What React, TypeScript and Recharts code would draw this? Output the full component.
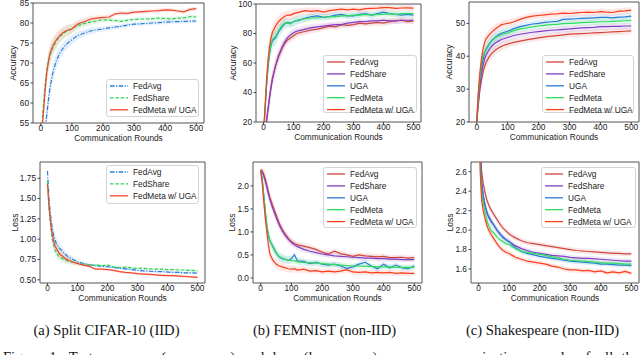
import { ComposedChart, Line, Area, XAxis, YAxis, ReferenceArea } from "recharts";

const FONT = "'Liberation Sans', Arial, sans-serif";
const SERIF = "'Liberation Serif', 'Times New Roman', serif";

// communication rounds sampled from the curves
const ROUNDS = [
  0, 5, 10, 15, 20, 25, 30,
  40, 50, 60, 70, 80, 90, 100, 110, 120,
  140, 160, 180, 200, 220, 240, 260, 280, 300, 320, 340, 360, 380, 400, 420, 440, 460, 480, 500,
];
const X_TICKS = [0, 100, 200, 300, 400, 500];

// (a) Split CIFAR-10 — accuracy
const CIFAR_ACC_FEDAVG = [
  30, 40, 48, 54, 57.5, 61, 64,
  68, 70.5, 72.3, 73.5, 74.5, 75.2, 75.8, 76.4, 76.9,
  77.5, 78.0, 78.3, 78.5, 78.8, 79.0, 79.2, 79.5, 79.7, 79.8, 79.9, 80.0, 80.1, 80.2, 80.3, 80.35, 80.4, 80.45, 80.5,
];
const CIFAR_ACC_FEDSHARE = [
  35, 56, 61, 65.5, 68.5, 70.5, 72,
  74, 75.5, 76.5, 77.2, 77.8, 78.2, 78.6, 79.0, 79.4,
  79.9, 80.2, 80.5, 80.8, 80.7, 80.6, 80.4, 80.7, 80.9, 81.0, 81.0, 81.1, 81.2, 81.1, 81.0, 81.2, 81.3, 81.6, 81.5,
];
const CIFAR_ACC_FEDMETA_UGA = [
  35, 54, 59, 64, 68, 70.5, 72.5,
  74.5, 75.8, 76.8, 77.5, 78, 78.3, 78.5, 79.2, 79.8,
  80.3, 81.0, 81.2, 81.4, 81.5, 82.3, 82.5, 82.4, 82.7, 82.8, 82.9, 83.0, 83.1, 83.3, 83.2, 83.0, 82.8, 83.4, 83.6,
];
const CIFAR_ACC_SPREAD = [
  0, 2, 2.5, 2.5, 2.5, 2.5, 2.3,
  2, 1.8, 1.6, 1.5, 1.4, 1.3, 1.2, 1.1, 1.0,
  0.9, 0.8, 0.7, 0.6, 0.6, 0.5, 0.5, 0.5, 0.5, 0.5, 0.5, 0.5, 0.5, 0.5, 0.5, 0.5, 0.5, 0.5, 0.5,
];

// (a) Split CIFAR-10 — loss
const CIFAR_LOSS_FEDAVG = [
  1.84, 1.5, 1.3, 1.15, 1.05, 0.99, 0.94,
  0.89, 0.85, 0.81, 0.78, 0.76, 0.74, 0.72, 0.71, 0.70,
  0.685, 0.675, 0.665, 0.66, 0.65, 0.64, 0.635, 0.625, 0.615, 0.61, 0.605, 0.6, 0.6, 0.595, 0.59, 0.59, 0.585, 0.585, 0.58,
];
const CIFAR_LOSS_FEDSHARE = [
  1.72, 1.38, 1.18, 1.02, 0.93, 0.87, 0.83,
  0.78, 0.76, 0.74, 0.73, 0.72, 0.71, 0.70, 0.695, 0.69,
  0.68, 0.68, 0.675, 0.68, 0.66, 0.65, 0.655, 0.645, 0.64, 0.64, 0.635, 0.63, 0.63, 0.625, 0.625, 0.62, 0.62, 0.615, 0.61,
];
const CIFAR_LOSS_FEDMETA_UGA = [
  1.68, 1.4, 1.22, 1.08, 0.98, 0.92, 0.88,
  0.82, 0.79, 0.76, 0.74, 0.725, 0.71, 0.70, 0.69, 0.68,
  0.665, 0.63, 0.63, 0.625, 0.615, 0.6, 0.59, 0.585, 0.575, 0.57, 0.565, 0.56, 0.555, 0.55, 0.55, 0.545, 0.54, 0.535, 0.53,
];
const CIFAR_LOSS_SPREAD = [
  0, 0.05, 0.07, 0.08, 0.08, 0.08, 0.07,
  0.06, 0.05, 0.045, 0.04, 0.035, 0.03, 0.025, 0.02, 0.02,
  0.015, 0.015, 0.015, 0.015, 0.015, 0.015, 0.015, 0.015, 0.015, 0.015, 0.015, 0.015, 0.015, 0.015, 0.015, 0.015, 0.015, 0.015, 0.015,
];

// (b) FEMNIST — accuracy
const FEMNIST_ACC_FEDAVG = [
  12, 15, 21, 29, 37, 44, 50,
  58, 64, 69, 73, 75.5, 77, 78.5, 80, 80.5,
  81.5, 82.5, 83, 84, 85, 84.5, 86, 85.5, 86, 87, 86.5, 87, 87.5, 87, 88, 88.5, 89, 88, 88.5,
];
const FEMNIST_ACC_FEDSHARE = [
  12, 14, 20, 28, 36, 43, 49,
  58, 65, 70, 74, 77, 79, 80.5, 81.5, 82,
  83, 84, 84.5, 85, 85.5, 86, 86, 87, 87.5, 88, 88, 88.5, 88.5, 89, 88.5, 88.5, 89, 89, 89,
];
const FEMNIST_ACC_UGA = [
  12, 27, 44, 57, 66, 72, 75,
  77, 81, 84, 86.5, 87.5, 87, 88, 88.5, 89,
  90.5, 91.5, 92, 91, 91.5, 92.5, 93, 92, 92, 93, 93.5, 92.5, 93.5, 94.5, 93.5, 93, 92.5, 93, 92.5,
];
const FEMNIST_ACC_FEDMETA = [
  12, 28, 45, 58, 67, 73, 76,
  78, 82, 85, 87, 87, 86.5, 88, 89, 89.5,
  90, 90.5, 90.5, 91, 91.5, 91.5, 92, 92, 92.5, 92.5, 93, 92.5, 93, 93, 93.5, 93, 93.5, 93.5, 93.5,
];
const FEMNIST_ACC_FEDMETA_UGA = [
  12, 30, 48, 62, 71, 77, 81,
  85, 88, 90, 91.5, 92.5, 92.5, 93.5, 94, 94.5,
  95.5, 95, 95.5, 94.5, 95.5, 96, 96.5, 96, 96.5, 96, 96.8, 97, 97.2, 97.5, 97.6, 97, 97.3, 97.4, 97.2,
];
const FEMNIST_ACC_SPREAD = [
  0, 4, 6, 6, 6, 6, 5,
  5, 4, 4, 3.5, 3, 3, 3, 2.8, 2.6,
  2.5, 2.4, 2.3, 2.2, 2.2, 2.1, 2, 2, 2, 2, 2, 2, 2, 2, 2, 2, 2, 2, 2,
];

// (b) FEMNIST — loss
const FEMNIST_LOSS_FEDAVG = [
  2.35, 2.32, 2.25, 2.15, 2.02, 1.88, 1.75,
  1.56, 1.38, 1.2, 1.06, 0.95, 0.86, 0.79, 0.75, 0.72,
  0.69, 0.66, 0.62, 0.56, 0.52, 0.58, 0.53, 0.5, 0.47, 0.5, 0.48, 0.47, 0.46, 0.47, 0.44, 0.44, 0.45, 0.43, 0.44,
];
const FEMNIST_LOSS_FEDSHARE = [
  2.35, 2.3, 2.22, 2.1, 1.97, 1.83, 1.7,
  1.5, 1.32, 1.15, 1.02, 0.92, 0.84, 0.77, 0.72, 0.68,
  0.62, 0.58, 0.55, 0.52, 0.5, 0.48, 0.47, 0.46, 0.45, 0.44, 0.43, 0.43, 0.42, 0.42, 0.41, 0.41, 0.4, 0.4, 0.4,
];
const FEMNIST_LOSS_UGA = [
  2.35, 2.15, 1.8, 1.45, 1.12, 0.92, 0.8,
  0.68, 0.55, 0.46, 0.42, 0.4, 0.38, 0.42, 0.5, 0.37,
  0.36, 0.31, 0.34, 0.3, 0.28, 0.3, 0.26, 0.21, 0.24, 0.3, 0.34, 0.26, 0.2, 0.3, 0.22, 0.28, 0.22, 0.2, 0.26,
];
const FEMNIST_LOSS_FEDMETA = [
  2.35, 2.15, 1.8, 1.45, 1.15, 0.95, 0.82,
  0.66, 0.54, 0.47, 0.43, 0.41, 0.39, 0.38, 0.37, 0.35,
  0.34, 0.33, 0.32, 0.31, 0.3, 0.29, 0.28, 0.27, 0.26, 0.26, 0.25, 0.25, 0.24, 0.24, 0.24, 0.23, 0.23, 0.23, 0.23,
];
const FEMNIST_LOSS_FEDMETA_UGA = [
  2.35, 2.05, 1.65, 1.3, 1.0, 0.72, 0.52,
  0.38, 0.3, 0.26, 0.24, 0.22, 0.2, 0.19, 0.2, 0.17,
  0.19, 0.15, 0.16, 0.13, 0.15, 0.13, 0.15, 0.18, 0.13, 0.12, 0.13, 0.11, 0.12, 0.11, 0.12, 0.1, 0.11, 0.1, 0.1,
];
const FEMNIST_LOSS_SPREAD = [
  0, 0.08, 0.12, 0.14, 0.14, 0.13, 0.12,
  0.1, 0.1, 0.09, 0.09, 0.08, 0.08, 0.08, 0.07, 0.07,
  0.07, 0.06, 0.06, 0.06, 0.06, 0.06, 0.06, 0.06, 0.06, 0.06, 0.06, 0.06, 0.06, 0.06, 0.06, 0.06, 0.06, 0.06, 0.06,
];

// (c) Shakespeare — accuracy
const SHAKE_ACC_FEDAVG = [
  20, 25, 29.5, 32.5, 35, 36.8, 38,
  39.8, 41, 41.8, 42.5, 43, 43.4, 43.7, 44, 44.2,
  44.6, 45, 45.3, 45.6, 45.9, 46.1, 46.3, 46.5, 46.7, 46.8, 46.9, 47, 47.1, 47.2, 47.3, 47.4, 47.5, 47.6, 47.7,
];
const SHAKE_ACC_FEDSHARE = [
  20, 26, 31, 34.5, 37, 39, 40.3,
  42, 43.2, 44, 44.6, 45.1, 45.4, 45.7, 46, 46.3,
  46.7, 47, 47.3, 47.5, 47.7, 47.9, 48, 48.2, 48.3, 48.5, 48.6, 48.7, 48.8, 49, 49, 49.1, 49.1, 49.2, 49.2,
];
const SHAKE_ACC_UGA = [
  20, 27, 32.5, 36, 38.8, 40.8, 42.2,
  43.8, 45, 45.8, 46.5, 47, 47.3, 47.6, 48, 48.4,
  49, 49.4, 49.8, 50, 50.3, 50.5, 50.6, 51.2, 51.3, 51.4, 51.5, 51.6, 51.7, 51.8, 51.8, 51.7, 51.9, 52.0, 52.2,
];
const SHAKE_ACC_FEDMETA = [
  20, 28, 33.5, 37.5, 40, 41.3, 41.8,
  43.5, 44.8, 45.6, 46.2, 46.6, 46.9, 47.1, 47.5, 47.8,
  48.3, 48.6, 48.9, 49.2, 49.4, 49.6, 49.7, 49.9, 50, 50.1, 50.2, 50.3, 50.4, 50.5, 50.5, 50.6, 50.7, 50.8, 50.9,
];
const SHAKE_ACC_FEDMETA_UGA = [
  20, 29, 35, 39, 42, 44, 45.2,
  46.5, 47.5, 48.3, 49, 49.6, 49.8, 50, 50.2, 50.5,
  51.2, 51.8, 52.2, 52.4, 52.6, 52.8, 52.9, 53.1, 53, 53.2, 53.3, 53.4, 53.3, 53.6, 53.4, 53.3, 53.7, 53.8, 54.0,
];
const SHAKE_ACC_SPREAD = [
  0, 1.5, 2, 2, 2, 2, 1.8,
  1.6, 1.5, 1.4, 1.3, 1.3, 1.2, 1.2, 1.1, 1.1,
  1, 1, 1, 1, 1, 1, 1, 1, 1, 1, 1, 1, 1, 1, 1, 1, 1, 1, 1,
];

// (c) Shakespeare — loss
const SHAKE_LOSS_FEDAVG = [
  4.0, 2.85, 2.6, 2.48, 2.4, 2.33, 2.28,
  2.21, 2.16, 2.11, 2.06, 2.02, 1.99, 1.96, 1.94, 1.92,
  1.89, 1.87, 1.86, 1.85, 1.84, 1.83, 1.82, 1.81, 1.8, 1.79, 1.785, 1.78, 1.775, 1.77, 1.765, 1.76, 1.76, 1.755, 1.755,
];
const SHAKE_LOSS_FEDSHARE = [
  4.0, 2.8, 2.5, 2.35, 2.26, 2.2, 2.15,
  2.09, 2.05, 2.0, 1.96, 1.93, 1.9, 1.88, 1.86, 1.84,
  1.81, 1.79, 1.77, 1.76, 1.75, 1.74, 1.735, 1.73, 1.72, 1.715, 1.71, 1.71, 1.705, 1.7, 1.695, 1.69, 1.685, 1.68, 1.68,
];
const SHAKE_LOSS_UGA = [
  4.0, 2.8, 2.48, 2.36, 2.28, 2.21, 2.16,
  2.1, 2.05, 2.0, 1.96, 1.92, 1.9, 1.88, 1.85, 1.82,
  1.78, 1.76, 1.745, 1.73, 1.72, 1.71, 1.7, 1.69, 1.68, 1.675, 1.67, 1.665, 1.66, 1.65, 1.65, 1.645, 1.64, 1.64, 1.635,
];
const SHAKE_LOSS_FEDMETA = [
  4.0, 2.7, 2.38, 2.28, 2.2, 2.13, 2.07,
  2.0, 1.97, 1.93, 1.9, 1.88, 1.86, 1.85, 1.83, 1.81,
  1.78, 1.77, 1.76, 1.75, 1.74, 1.725, 1.715, 1.7, 1.69, 1.685, 1.68, 1.675, 1.67, 1.665, 1.66, 1.66, 1.655, 1.65, 1.65,
];
const SHAKE_LOSS_FEDMETA_UGA = [
  4.0, 2.6, 2.3, 2.2, 2.13, 2.07, 2.02,
  1.96, 1.91, 1.86, 1.82, 1.79, 1.77, 1.76, 1.74, 1.72,
  1.7, 1.68, 1.67, 1.66, 1.65, 1.63, 1.62, 1.6, 1.59, 1.59, 1.58, 1.585, 1.57, 1.58, 1.56, 1.57, 1.56, 1.575, 1.555,
];
const SHAKE_LOSS_SPREAD = [
  0, 0.06, 0.05, 0.05, 0.05, 0.045, 0.04,
  0.04, 0.035, 0.035, 0.03, 0.03, 0.03, 0.03, 0.03, 0.03,
  0.025, 0.025, 0.025, 0.025, 0.025, 0.025, 0.025, 0.025, 0.025, 0.025, 0.025, 0.025, 0.025, 0.025, 0.025, 0.025, 0.025, 0.025, 0.025,
];

const CAPTIONS = ["(a) Split CIFAR-10 (IID)", "(b) FEMNIST (non-IID)", "(c) Shakespeare (non-IID)"];
const FIGURE_LINE = "Figure 1: Test accuracy (upper row) and loss (lower row) versus communication rounds of all the";

const C = {
  blueA: "#2a7dd6",
  greenA: "#2fd15a",
  redA: "#f2432b",
  fedAvg: "#d2453d",
  fedShare: "#8140c4",
  uga: "#2a7dd6",
  fedMeta: "#2fdc60",
  fedMetaUga: "#fa3d1d",
};

type Series = { name: string; values: number[]; color: string; dash?: string };
type PanelSpec = {
  box: [number, number, number, number];
  yDomain: [number, number];
  yTicks: number[];
  digits: number;
  yLabel: string;
  yLabelX: number;
  series: Series[];
  spread: number[];
  legend: { left: number; top: number; width: number; height: number };
};

const nonIid = (v: number[][]): Series[] => [
  { name: "FedAvg", values: v[0], color: C.fedAvg },
  { name: "FedShare", values: v[1], color: C.fedShare },
  { name: "UGA", values: v[2], color: C.uga },
  { name: "FedMeta", values: v[3], color: C.fedMeta },
  { name: "FedMeta w/ UGA", values: v[4], color: C.fedMetaUga },
];

const PANELS: PanelSpec[] = [
  {
    box: [33, 3, 204, 123],
    yDomain: [55, 85],
    yTicks: [55, 60, 65, 70, 75, 80, 85],
    digits: 0,
    yLabel: "Accuracy",
    yLabelX: 13,
    series: [
      { name: "FedAvg", values: CIFAR_ACC_FEDAVG, color: C.blueA, dash: "4.5 1.5 1.2 1.5" },
      { name: "FedShare", values: CIFAR_ACC_FEDSHARE, color: C.greenA, dash: "3.5 1.8" },
      { name: "FedMeta w/ UGA", values: CIFAR_ACC_FEDMETA_UGA, color: C.redA },
    ],
    spread: CIFAR_ACC_SPREAD,
    legend: { left: 106, top: 79, width: 93, height: 38 },
  },
  {
    box: [256, 4, 421, 122],
    yDomain: [20, 100],
    yTicks: [20, 40, 60, 80, 100],
    digits: 0,
    yLabel: "Accuracy",
    yLabelX: 233,
    series: nonIid([FEMNIST_ACC_FEDAVG, FEMNIST_ACC_FEDSHARE, FEMNIST_ACC_UGA, FEMNIST_ACC_FEDMETA, FEMNIST_ACC_FEDMETA_UGA]),
    spread: FEMNIST_ACC_SPREAD,
    legend: { left: 323, top: 55, width: 94, height: 58 },
  },
  {
    box: [469, 2, 639, 122],
    yDomain: [20, 56.5],
    yTicks: [20, 30, 40, 50],
    digits: 0,
    yLabel: "Accuracy",
    yLabelX: 449,
    series: nonIid([SHAKE_ACC_FEDAVG, SHAKE_ACC_FEDSHARE, SHAKE_ACC_UGA, SHAKE_ACC_FEDMETA, SHAKE_ACC_FEDMETA_UGA]),
    spread: SHAKE_ACC_SPREAD,
    legend: { left: 542, top: 55, width: 92, height: 58 },
  },
  {
    box: [40, 162, 205, 283],
    yDomain: [0.46, 1.95],
    yTicks: [0.5, 0.75, 1.0, 1.25, 1.5, 1.75],
    digits: 2,
    yLabel: "Loss",
    yLabelX: 15,
    series: [
      { name: "FedAvg", values: CIFAR_LOSS_FEDAVG, color: C.blueA, dash: "4.5 1.5 1.2 1.5" },
      { name: "FedShare", values: CIFAR_LOSS_FEDSHARE, color: C.greenA, dash: "3.5 1.8" },
      { name: "FedMeta w/ UGA", values: CIFAR_LOSS_FEDMETA_UGA, color: C.redA },
    ],
    spread: CIFAR_LOSS_SPREAD,
    legend: { left: 106, top: 165, width: 93, height: 39 },
  },
  {
    box: [253, 162, 422, 283],
    yDomain: [-0.11, 2.52],
    yTicks: [0, 0.5, 1.0, 1.5, 2.0],
    digits: 1,
    yLabel: "Loss",
    yLabelX: 232,
    series: nonIid([FEMNIST_LOSS_FEDAVG, FEMNIST_LOSS_FEDSHARE, FEMNIST_LOSS_UGA, FEMNIST_LOSS_FEDMETA, FEMNIST_LOSS_FEDMETA_UGA]),
    spread: FEMNIST_LOSS_SPREAD,
    legend: { left: 323, top: 167, width: 94, height: 61 },
  },
  {
    box: [471, 162, 639, 283],
    yDomain: [1.456, 2.7],
    yTicks: [1.6, 1.8, 2.0, 2.2, 2.4, 2.6],
    digits: 1,
    yLabel: "Loss",
    yLabelX: 450,
    series: nonIid([SHAKE_LOSS_FEDAVG, SHAKE_LOSS_FEDSHARE, SHAKE_LOSS_UGA, SHAKE_LOSS_FEDMETA, SHAKE_LOSS_FEDMETA_UGA]),
    spread: SHAKE_LOSS_SPREAD,
    legend: { left: 541, top: 167, width: 95, height: 61 },
  },
];

const YW = 32;
const MT = 5;
const MR = 3;
const XH = 24;
const TICK = { fontSize: 8.3, fill: "#222", fontFamily: FONT };

function Panel({ spec }: { spec: PanelSpec }) {
  const [l, t, r, b] = spec.box;
  const width = YW + (r - l) + MR;
  const height = MT + (b - t) + XH;
  const rows = ROUNDS.map((round, i) => {
    const row: Record<string, any> = { round };
    spec.series.forEach((s, k) => {
      row["s" + k] = s.values[i];
      row["b" + k] = [s.values[i] - spec.spread[i], s.values[i] + spec.spread[i]];
    });
    return row;
  });

  return (
    <div style={{ position: "absolute", left: l - YW, top: t - MT, width, height }}>
      <ComposedChart width={width} height={height} data={rows} margin={{ top: MT, right: MR, bottom: 0, left: 0 }}>
        <XAxis
          type="number"
          dataKey="round"
          domain={[-25, 525]}
          ticks={X_TICKS}
          allowDataOverflow
          height={XH}
          axisLine={false}
          tickLine={{ stroke: "#444" }}
          tickSize={2.5}
          tickMargin={0}
          tick={TICK}
          label={{
            content: () => (
              <text x={YW + (r - l) / 2} y={MT + (b - t) + 17.5} textAnchor="middle" fontSize={8.3} fill="#222" fontFamily={FONT}>
                Communication Rounds
              </text>
            ),
          }}
        />
        <YAxis
          type="number"
          domain={spec.yDomain}
          ticks={spec.yTicks}
          allowDataOverflow
          width={YW}
          axisLine={false}
          tickLine={{ stroke: "#444" }}
          tickSize={2.5}
          tickMargin={1.5}
          tick={TICK}
          tickFormatter={(v: number) => v.toFixed(spec.digits)}
          label={{
            content: () => {
              const x = spec.yLabelX - (l - YW);
              const y = MT + (b - t) / 2;
              return (
                <text x={x} y={y} transform={`rotate(-90, ${x}, ${y})`} textAnchor="middle" dominantBaseline="central" fontSize={8.5} fill="#222" fontFamily={FONT}>
                  {spec.yLabel}
                </text>
              );
            },
          }}
        />
        {spec.series.map((s, k) => (
          <Area
            key={"b" + k}
            type="linear"
            dataKey={"b" + k}
            stroke="none"
            fill={s.color}
            fillOpacity={0.12}
            legendType="none"
            activeDot={false}
            isAnimationActive={false}
          />
        ))}
        {spec.series.map((s, k) => (
          <Line
            key={"s" + k}
            type="linear"
            dataKey={"s" + k}
            name={s.name}
            stroke={s.color}
            strokeWidth={1.2}
            strokeDasharray={s.dash}
            dot={false}
            activeDot={false}
            isAnimationActive={false}
          />
        ))}
        <ReferenceArea x1={-25} x2={525} y1={spec.yDomain[0]} y2={spec.yDomain[1]} fill="none" stroke="#555" strokeWidth={1} />
      </ComposedChart>
    </div>
  );
}

function LegendBox({ spec }: { spec: PanelSpec }) {
  const { left, top, width, height } = spec.legend;
  return (
    <div
      style={{
        position: "absolute",
        left,
        top,
        width,
        height,
        boxSizing: "border-box",
        background: "rgba(255,255,255,0.85)",
        border: "1px solid #d4d4d4",
        borderRadius: 3,
      }}
    >
      <svg width={width - 2} height={height - 2} style={{ display: "block", overflow: "visible" }}>
        {spec.series.map((s, k) => {
          const y = 6 + k * 11.9;
          return (
            <g key={s.name}>
              <line x1={3} x2={21} y1={y} y2={y} stroke={s.color} strokeWidth={1.3} strokeDasharray={s.dash} />
              <text x={26} y={y} dy="0.35em" fontSize={8.3} fill="#222" fontFamily={FONT}>
                {s.name}
              </text>
            </g>
          );
        })}
      </svg>
    </div>
  );
}

export default function App() {
  return (
    <div style={{ position: "absolute", left: 0, top: 0, width: 640, height: 355, overflow: "hidden", background: "#fff" }}>
      <svg width={640} height={355} style={{ position: "absolute", left: 0, top: 0 }}>
        {CAPTIONS.map((c, i) => (
          <text key={c} x={[106.5, 324.5, 542.5][i]} y={335} textAnchor="middle" fontSize={14.6} fill="#111" fontFamily={SERIF}>
            {c}
          </text>
        ))}
        <text x={3} y={362} fontSize={14.6} fill="#111" fontFamily={SERIF} wordSpacing={4.6}>
          {FIGURE_LINE}
        </text>
      </svg>
      {PANELS.map((p, i) => (
        <Panel key={i} spec={p} />
      ))}
      {PANELS.map((p, i) => (
        <LegendBox key={"l" + i} spec={p} />
      ))}
    </div>
  );
}
